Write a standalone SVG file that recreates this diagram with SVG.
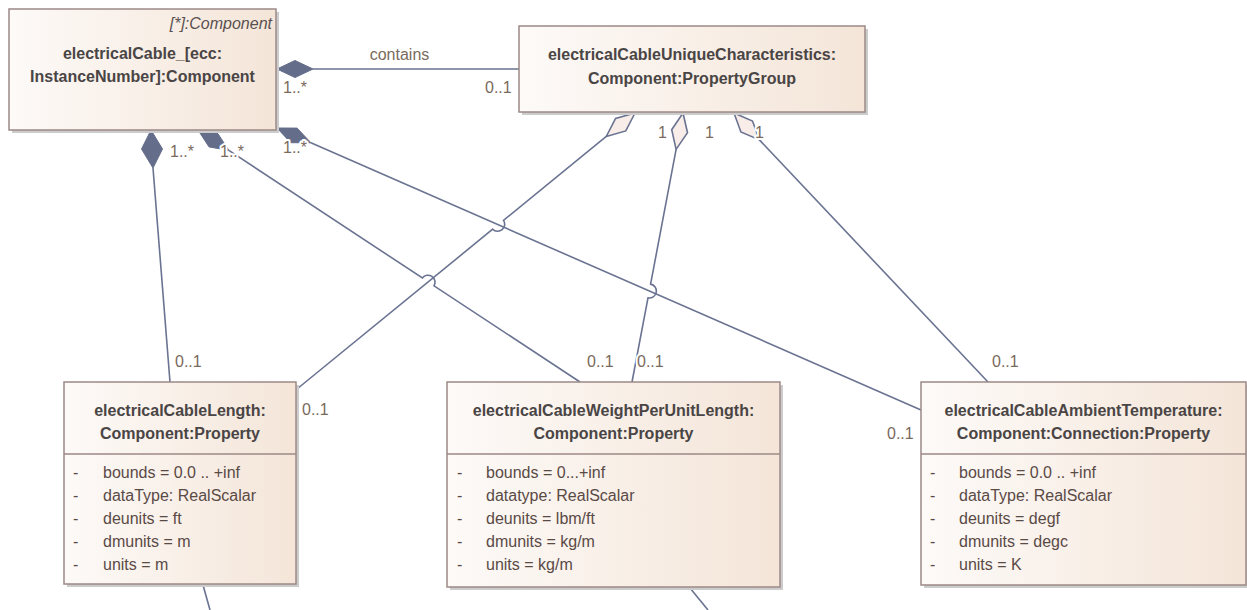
<svg xmlns="http://www.w3.org/2000/svg" width="1247" height="610" viewBox="0 0 1247 610">
<defs>
<linearGradient id="bg" x1="0" y1="0" x2="1" y2="0">
<stop offset="0" stop-color="#fdfaf8"/>
<stop offset="1" stop-color="#f4e5d8"/>
</linearGradient>
<style>
.shadow{fill:#cccccc}
.box{fill:url(#bg);stroke:#9c8986;stroke-width:1.5}
.div{stroke:#9c8986;stroke-width:1.5}
.t{font-family:"Liberation Sans",Arial,sans-serif;font-size:16px;font-weight:bold;fill:#4a4545;text-anchor:middle}
.st{font-family:"Liberation Sans",Arial,sans-serif;font-size:16px;font-style:italic;fill:#5a5050;text-anchor:end}
.a{font-family:"Liberation Sans",Arial,sans-serif;font-size:16px;fill:#5a4a46}
.c{fill:none;stroke:#6a7391;stroke-width:1.6}
.fd{fill:#646d8a;stroke:#646d8a;stroke-width:1}
.hd{fill:#f8ede9;stroke:#6a7391;stroke-width:1.6}
.m{font-family:"Liberation Sans",Arial,sans-serif;font-size:16px;fill:#7a6a5c;stroke:#ffffff;stroke-width:4;stroke-linejoin:round;paint-order:stroke}
</style>
</defs>
<rect width="1247" height="610" fill="#ffffff"/>
<g id="connectors">
<path class="c" d="M313,69 H519"/>
<path class="fd" d="M277,69 L295,60.5 L313,69 L295,77.5 Z"/>
<path class="c" d="M153,168 L170,382"/>
<path class="fd" d="M151,130 L162.5,149 L153,168 L141.5,149 Z"/>
<path class="c" d="M228.9,150.4 L422.4,278 A7,7 0 0 1 434,285.8 L580,382"/>
<path class="fd" d="M198,130 L217.8,133.5 L228.9,150.4 L209,146.9 Z"/>
<path class="c" d="M310.9,142.8 L921,410"/>
<path class="fd" d="M277,128 L297.1,128.1 L310.9,142.8 L290.7,142.7 Z"/>
<path class="c" d="M606.3,136.4 L503.5,220.4 A7,7 0 0 1 492.7,229.2 L297,389"/>
<path class="hd" d="M635,113 L625.8,130.9 L606.3,136.4 L615.6,118.5 Z"/>
<path class="c" d="M676.1,149.4 L650.6,284.1 A7,7 0 0 1 648,297.9 L632,382"/>
<path class="hd" d="M683,113 L687.5,132.7 L676.1,149.4 L671.7,129.7 Z"/>
<path class="c" d="M759.4,139.9 L988,382"/>
<path class="hd" d="M734,113 L752.5,121 L759.4,139.9 L740.9,132 Z"/>
<path class="c" d="M203,585 L210,610"/>
<path class="c" d="M690,588 L708,610"/>
<text class="m" x="399.5" y="60" text-anchor="middle">contains</text>
<text class="m" x="283" y="93">1..*</text>
<text class="m" x="485" y="93">0..1</text>
<text class="m" x="170" y="157">1..*</text>
<text class="m" x="220" y="157">1..*</text>
<text class="m" x="283" y="153">1..*</text>
<text class="m" x="175" y="367">0..1</text>
<text class="m" x="302" y="415">0..1</text>
<text class="m" x="587" y="367">0..1</text>
<text class="m" x="637" y="367">0..1</text>
<text class="m" x="992" y="367">0..1</text>
<text class="m" x="887" y="439">0..1</text>
<text class="m" x="658" y="138">1</text>
<text class="m" x="705" y="138">1</text>
<text class="m" x="755" y="138">1</text>
</g>
<g id="electricalCable">
<rect class="shadow" x="12" y="12" width="267" height="121"/>
<rect class="box" x="9" y="9" width="267" height="121"/>
<text class="st" x="272" y="29">[*]:Component</text>
<text class="t" x="142.5" y="59">electricalCable_[ecc:</text>
<text class="t" x="142.5" y="82">InstanceNumber]:Component</text>
</g>
<g id="electricalCableUniqueCharacteristics">
<rect class="shadow" x="522" y="29" width="346" height="86"/>
<rect class="box" x="519" y="26" width="346" height="86"/>
<text class="t" x="692" y="60">electricalCableUniqueCharacteristics:</text>
<text class="t" x="692" y="84">Component:PropertyGroup</text>
</g>
<g id="electricalCableLength">
<rect class="shadow" x="67" y="385" width="232" height="202"/>
<rect class="box" x="64" y="382" width="232" height="202"/>
<line class="div" x1="64" y1="454" x2="296" y2="454"/>
<text class="t" x="180" y="416">electricalCableLength:</text>
<text class="t" x="180" y="439">Component:Property</text>
<text class="a" x="73" y="478">-</text><text class="a" x="103" y="478">bounds = 0.0 .. +inf</text>
<text class="a" x="73" y="501">-</text><text class="a" x="103" y="501">dataType: RealScalar</text>
<text class="a" x="73" y="524">-</text><text class="a" x="103" y="524">deunits = ft</text>
<text class="a" x="73" y="547">-</text><text class="a" x="103" y="547">dmunits = m</text>
<text class="a" x="73" y="570">-</text><text class="a" x="103" y="570">units = m</text>
</g>
<g id="electricalCableWeightPerUnitLength">
<rect class="shadow" x="450" y="385" width="333" height="205"/>
<rect class="box" x="447" y="382" width="333" height="205"/>
<line class="div" x1="447" y1="454" x2="780" y2="454"/>
<text class="t" x="613.5" y="416">electricalCableWeightPerUnitLength:</text>
<text class="t" x="613.5" y="439">Component:Property</text>
<text class="a" x="457" y="478">-</text><text class="a" x="486" y="478">bounds = 0...+inf</text>
<text class="a" x="457" y="501">-</text><text class="a" x="486" y="501">datatype: RealScalar</text>
<text class="a" x="457" y="524">-</text><text class="a" x="486" y="524">deunits = lbm/ft</text>
<text class="a" x="457" y="547">-</text><text class="a" x="486" y="547">dmunits = kg/m</text>
<text class="a" x="457" y="570">-</text><text class="a" x="486" y="570">units = kg/m</text>
</g>
<g id="electricalCableAmbientTemperature">
<rect class="shadow" x="924" y="385" width="325" height="203"/>
<rect class="box" x="921" y="382" width="325" height="203"/>
<line class="div" x1="921" y1="454" x2="1246" y2="454"/>
<text class="t" x="1083.5" y="416">electricalCableAmbientTemperature:</text>
<text class="t" x="1083.5" y="439">Component:Connection:Property</text>
<text class="a" x="930" y="478">-</text><text class="a" x="959" y="478">bounds = 0.0 .. +inf</text>
<text class="a" x="930" y="501">-</text><text class="a" x="959" y="501">dataType: RealScalar</text>
<text class="a" x="930" y="524">-</text><text class="a" x="959" y="524">deunits = degf</text>
<text class="a" x="930" y="547">-</text><text class="a" x="959" y="547">dmunits = degc</text>
<text class="a" x="930" y="570">-</text><text class="a" x="959" y="570">units = K</text>
</g>
</svg>
